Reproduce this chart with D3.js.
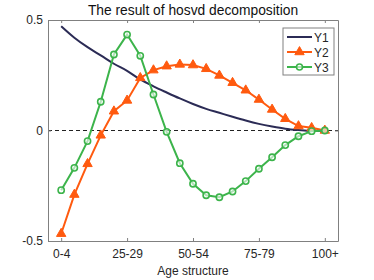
<!DOCTYPE html>
<html>
<head>
<meta charset="utf-8">
<script src="https://cdn.jsdelivr.net/npm/d3@7"></script>
<style>
  body { margin: 0; background: #fff; }
  svg { font-family: "Liberation Sans", Arial, sans-serif; }
</style>
</head>
<body>
<div id="chart"></div>
<script>
'use strict';

// x positions 1..21, labelled every 5 age groups
const ageIndex = d3.range(1, 22);
const tickIndex = [1, 6, 11, 16, 21];
const tickLabels = ["0-4", "25-29", "50-54", "75-79", "100+"];
const yTicks = [-0.5, 0, 0.5];

const y1 = [0.472, 0.42, 0.377, 0.34, 0.302, 0.27, 0.231, 0.2, 0.172, 0.145, 0.12,
            0.098, 0.08, 0.062, 0.045, 0.03, 0.018, 0.008, 0.002, -0.002, 0.0];
const y2 = [-0.467, -0.29, -0.151, -0.022, 0.087, 0.136, 0.238, 0.273, 0.291, 0.299, 0.296,
            0.279, 0.249, 0.216, 0.182, 0.14, 0.095, 0.053, 0.02, 0.012, 0.0];
const y3 = [-0.27, -0.169, -0.048, 0.13, 0.344, 0.434, 0.338, 0.163, -0.006, -0.148, -0.241,
            -0.293, -0.302, -0.276, -0.229, -0.173, -0.121, -0.066, -0.026, -0.003, 0.0];

const seriesNames = ["Y1", "Y2", "Y3"];
const seriesColors = ["#2b2b55", "#ff5a0f", "#3cb44b"];

const W = 374, H = 280;
let margin = {top: 20, right: 36, bottom: 39, left: 48};

let svg = d3.select("#chart").append("svg")
  .attr("width", W)
  .attr("height", H);

let x = d3.scaleLinear().domain([0, 22]).range([margin.left, W - margin.right]);
let y = d3.scaleLinear().domain([-0.5, 0.5]).range([H - margin.bottom, margin.top]);

// zero reference line
svg.append("line")
  .attr("x1", x(0)).attr("x2", x(22))
  .attr("y1", y(0)).attr("y2", y(0))
  .style("stroke", "#222")
  .style("stroke-width", 1)
  .style("stroke-dasharray", "4,3");

let line = d3.line()
  .x((d, i) => x(ageIndex[i]))
  .y(d => y(d));

let smooth = d3.line()
  .x((d, i) => x(ageIndex[i]))
  .y(d => y(d))
  .curve(d3.curveMonotoneX);

// Y1 - plain smooth line
svg.append("path")
  .attr("d", smooth(y1))
  .style("fill", "none")
  .style("stroke", seriesColors[0])
  .style("stroke-width", 2);

// Y2 - line with filled triangles
svg.append("path")
  .attr("d", line(y2))
  .style("fill", "none")
  .style("stroke", seriesColors[1])
  .style("stroke-width", 2);

let tri = d3.symbol().type(d3.symbolTriangle).size(38);
svg.append("g").selectAll("path")
  .data(y2)
  .enter()
  .append("path")
  .attr("d", tri)
  .attr("transform", (d, i) => "translate(" + x(ageIndex[i]) + "," + y(d) + ")")
  .style("fill", seriesColors[1])
  .style("stroke", seriesColors[1])
  .style("stroke-width", 1);

// Y3 - line with open circles
svg.append("path")
  .attr("d", line(y3))
  .style("fill", "none")
  .style("stroke", seriesColors[2])
  .style("stroke-width", 2);

svg.append("g").selectAll("circle")
  .data(y3)
  .enter()
  .append("circle")
  .attr("cx", (d, i) => x(ageIndex[i]))
  .attr("cy", d => y(d))
  .attr("r", 3.1)
  .style("fill", "#fff")
  .style("fill-opacity", 0.6)
  .style("stroke", seriesColors[2])
  .style("stroke-width", 1.6);

// axes box with inward ticks
let axColor = "#808080";
let xb = svg.append("g")
  .attr("transform", "translate(0," + y(-0.5) + ")")
  .call(d3.axisBottom(x).tickValues(tickIndex)
    .tickFormat((d, i) => tickLabels[i]).tickSizeInner(-3).tickSizeOuter(0).tickPadding(8));
let xt = svg.append("g")
  .attr("transform", "translate(0," + y(0.5) + ")")
  .call(d3.axisTop(x).tickValues(tickIndex).tickFormat("").tickSizeInner(-3).tickSizeOuter(0));
let yl = svg.append("g")
  .attr("transform", "translate(" + x(0) + ",0)")
  .call(d3.axisLeft(y).tickValues(yTicks).tickFormat(d => d === 0 ? "0" : d)
    .tickSizeInner(-3).tickSizeOuter(0).tickPadding(5));
let yr = svg.append("g")
  .attr("transform", "translate(" + x(22) + ",0)")
  .call(d3.axisRight(y).tickValues(yTicks).tickFormat("").tickSizeInner(-3).tickSizeOuter(0));

[xb, xt, yl, yr].forEach(function(g) {
  g.selectAll(".domain").style("stroke", axColor);
  g.selectAll(".tick line").style("stroke", axColor);
  g.selectAll("text")
    .style("font-size", "12px")
    .style("font-family", "Liberation Sans, Arial, sans-serif")
    .style("fill", "#262626");
});

// title and label
svg.append("text")
  .attr("x", (x(0) + x(22)) / 2)
  .attr("y", 15)
  .attr("text-anchor", "middle")
  .style("font-size", "13.8px")
  .style("fill", "#111")
  .text("The result of hosvd decomposition");

svg.append("text")
  .attr("x", (x(0) + x(22)) / 2)
  .attr("y", 275)
  .attr("text-anchor", "middle")
  .style("font-size", "12px")
  .style("fill", "#262626")
  .text("Age structure");

// legend
let lg = svg.append("g").attr("transform", "translate(283,28)");
lg.append("rect")
  .attr("width", 51).attr("height", 47)
  .style("fill", "#fff")
  .style("stroke", "#808080")
  .style("stroke-width", 1);

seriesNames.forEach(function(name, i) {
  let ly = 9 + i * 15;
  lg.append("line")
    .attr("x1", 4).attr("x2", 29)
    .attr("y1", ly).attr("y2", ly)
    .style("stroke", seriesColors[i])
    .style("stroke-width", 2);
  if (i === 1) {
    lg.append("path").attr("d", tri)
      .attr("transform", "translate(16.5," + ly + ")")
      .style("fill", seriesColors[1]).style("stroke", seriesColors[1]);
  }
  if (i === 2) {
    lg.append("circle").attr("cx", 16.5).attr("cy", ly).attr("r", 3)
      .style("fill", "#fff").style("fill-opacity", 0.6)
      .style("stroke", seriesColors[2]).style("stroke-width", 1.6);
  }
  lg.append("text")
    .attr("x", 31).attr("y", ly + 4.5)
    .style("font-size", "12px")
    .style("fill", "#262626")
    .text(name);
});
</script>
</body>
</html>
